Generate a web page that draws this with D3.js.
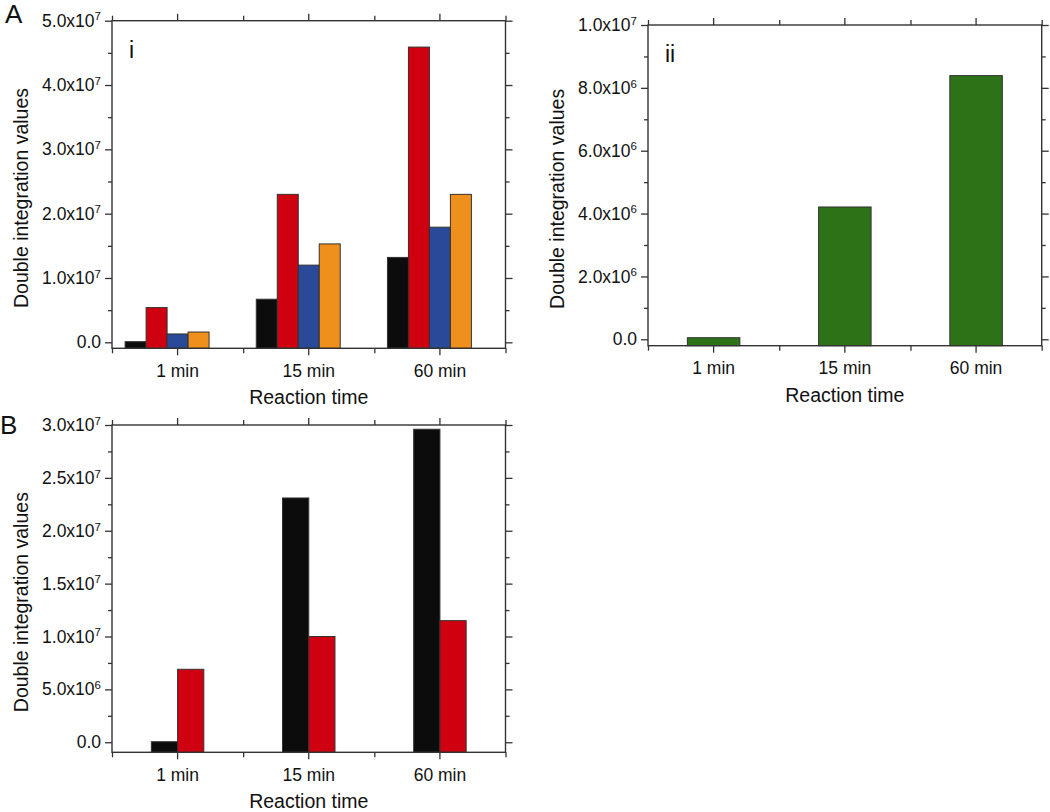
<!DOCTYPE html>
<html>
<head>
<meta charset="utf-8">
<script src="https://cdn.jsdelivr.net/npm/d3@7/dist/d3.min.js"></script>
<style>
  body { margin: 0; background: #fff; }
  svg { display: block; font-family: "Liberation Sans", Arial, sans-serif; }
  .tick line { stroke: #333; stroke-width: 1.3; }
  .tick text { fill: #111; font-size: 17.5px; font-family: "Liberation Sans", Arial, sans-serif; }
  .frame { fill: none; stroke: #333; stroke-width: 1.4; }
  .bar { stroke: #333; stroke-width: 1; }
  .title { fill: #111; font-size: 19.5px; }
</style>
</head>
<body>
<svg id="chart" width="1050" height="812"></svg>
<script>
// Categories on the x axis
const timePoints = ["1 min", "15 min", "60 min"];

// Panel A (i): four samples
const aiBlack = [1.0e5, 6.7e6, 1.32e7];
const aiRed = [5.4e6, 2.30e7, 4.59e7];
const aiBlue = [1.3e6, 1.20e7, 1.79e7];
const aiOrange = [1.6e6, 1.53e7, 2.30e7];

// Panel A (ii): one sample
const aiiGreen = [5.0e4, 4.21e6, 8.39e6];

// Panel B: two samples
const bBlack = [5.0e4, 2.31e7, 2.96e7];
const bRed = [6.9e6, 1.0e7, 1.15e7];

// Labelled y ticks per panel
const aiTicks = [0, 1e7, 2e7, 3e7, 4e7, 5e7];
const aiiTicks = [0, 2e6, 4e6, 6e6, 8e6, 1e7];
const bTicks = [0, 5e6, 1e7, 1.5e7, 2e7, 2.5e7, 3e7];

const colors = { black: "#0c0c0c", red: "#cf000f", blue: "#2a4999", orange: "#f0901c", green: "#2d7216" };

const svg = d3.select("#chart");

/**
 * Format a tick value as "m.mx10^e" with a real superscript.
 */
function sciLabel(sel) {
  sel.each(function (d) {
    const t = d3.select(this).text(null);
    if (d === 0) { t.text("0.0"); return; }
    const exp = Math.floor(Math.log10(d));
    const mant = d / Math.pow(10, exp);
    t.append("tspan").text(mant.toFixed(1) + "x10");
    t.append("tspan").attr("dy", "-0.55em").style("font-size", "11.5px").text(exp);
  });
}

/**
 * Draw one framed bar panel in the Origin style.
 */
function drawPanel(p) {
  const g = svg.append("g");

  const x = d3.scaleBand().domain(timePoints).range([p.left, p.right]).padding(0);
  const y = d3.scaleLinear().domain([p.yMin, p.yMax]).range([p.bottom, p.top]);
  const step = x.bandwidth();
  const barW = step * p.barFrac;

  // minor y ticks halfway between the labelled ones
  const minor = [];
  for (let i = 0; i < p.ticks.length - 1; i++) minor.push((p.ticks[i] + p.ticks[i + 1]) / 2);

  // band edges for minor x ticks
  const edges = d3.range(timePoints.length + 1).map((i) => p.left + i * step);

  // bars
  p.series.forEach((s, si) => {
    g.selectAll(null)
      .data(s.values)
      .enter()
      .append("rect")
      .attr("class", "bar")
      .attr("fill", s.color)
      .attr("x", (d, i) => x(timePoints[i]) + step / 2 + (p.groupStart + si) * barW)
      .attr("width", barW)
      .attr("y", (d) => y(d))
      .attr("height", (d) => y(p.yMin) - y(d));
  });

  // left axis
  const yAxisL = g.append("g")
    .attr("transform", "translate(" + p.left + ",0)")
    .call(d3.axisLeft(y).tickValues(p.ticks).tickSize(7).tickSizeOuter(0).tickPadding(4));
  yAxisL.selectAll(".tick text").call(sciLabel);
  g.append("g")
    .attr("transform", "translate(" + p.left + ",0)")
    .call(d3.axisLeft(y).tickValues(minor).tickSize(4).tickFormat(""));

  // right axis
  g.append("g")
    .attr("transform", "translate(" + p.right + ",0)")
    .call(d3.axisRight(y).tickValues(p.ticks).tickSize(7).tickFormat(""));
  g.append("g")
    .attr("transform", "translate(" + p.right + ",0)")
    .call(d3.axisRight(y).tickValues(minor).tickSize(4).tickFormat(""));

  // bottom axis
  g.append("g")
    .attr("transform", "translate(0," + p.bottom + ")")
    .call(d3.axisBottom(x).tickSize(7).tickPadding(9).offset(0));
  const edgeScale = d3.scaleLinear().domain([p.left, p.right]).range([p.left, p.right]);
  g.append("g")
    .attr("transform", "translate(0," + p.bottom + ")")
    .call(d3.axisBottom(edgeScale).tickValues(edges).tickSize(5).tickFormat(""));

  // top axis
  g.append("g")
    .attr("transform", "translate(0," + p.top + ")")
    .call(d3.axisTop(x).tickSize(7).tickFormat("").offset(0));
  g.append("g")
    .attr("transform", "translate(0," + p.top + ")")
    .call(d3.axisTop(edgeScale).tickValues(edges).tickSize(5).tickFormat(""));

  g.selectAll(".domain").remove();

  // frame
  g.append("rect")
    .attr("class", "frame")
    .attr("x", p.left).attr("y", p.top)
    .attr("width", p.right - p.left).attr("height", p.bottom - p.top);

  // axis titles
  g.append("text")
    .attr("class", "title")
    .attr("text-anchor", "middle")
    .attr("x", (p.left + p.right) / 2)
    .attr("y", p.bottom + 56)
    .text("Reaction time");
  g.append("text")
    .attr("class", "title")
    .attr("text-anchor", "middle")
    .attr("transform", "translate(" + (p.left - 84) + "," + ((p.top + p.bottom) / 2 + 13.5) + ") rotate(-90)")
    .text("Double integration values");

  // inner panel label
  if (p.inner) {
    g.append("text")
      .attr("x", p.left + 17).attr("y", p.top + 37)
      .style("font-size", "23px").attr("fill", "#111")
      .text(p.inner);
  }
}

drawPanel({
  left: 112, right: 505.5, top: 20.7, bottom: 348.3,
  yMin: -0.93e6, yMax: 5e7, ticks: aiTicks,
  barFrac: 0.16, groupStart: -2.5, inner: "i",
  series: [
    { values: aiBlack, color: colors.black },
    { values: aiRed, color: colors.red },
    { values: aiBlue, color: colors.blue },
    { values: aiOrange, color: colors.orange },
  ],
});

drawPanel({
  left: 648, right: 1041.7, top: 25, bottom: 345.7,
  yMin: -2.04e5, yMax: 1e7, ticks: aiiTicks,
  barFrac: 0.4, groupStart: -0.5, inner: "ii",
  series: [{ values: aiiGreen, color: colors.green }],
});

drawPanel({
  left: 112, right: 505.5, top: 425, bottom: 752.3,
  yMin: -0.95e6, yMax: 3e7, ticks: bTicks,
  barFrac: 0.2, groupStart: -1, inner: null,
  series: [
    { values: bBlack, color: colors.black },
    { values: bRed, color: colors.red },
  ],
});

// figure letters
svg.append("text").attr("x", 5).attr("y", 23).style("font-size", "26px").attr("fill", "#111").text("A");
svg.append("text").attr("x", 0).attr("y", 434).style("font-size", "26px").attr("fill", "#111").text("B");
</script>
</body>
</html>
